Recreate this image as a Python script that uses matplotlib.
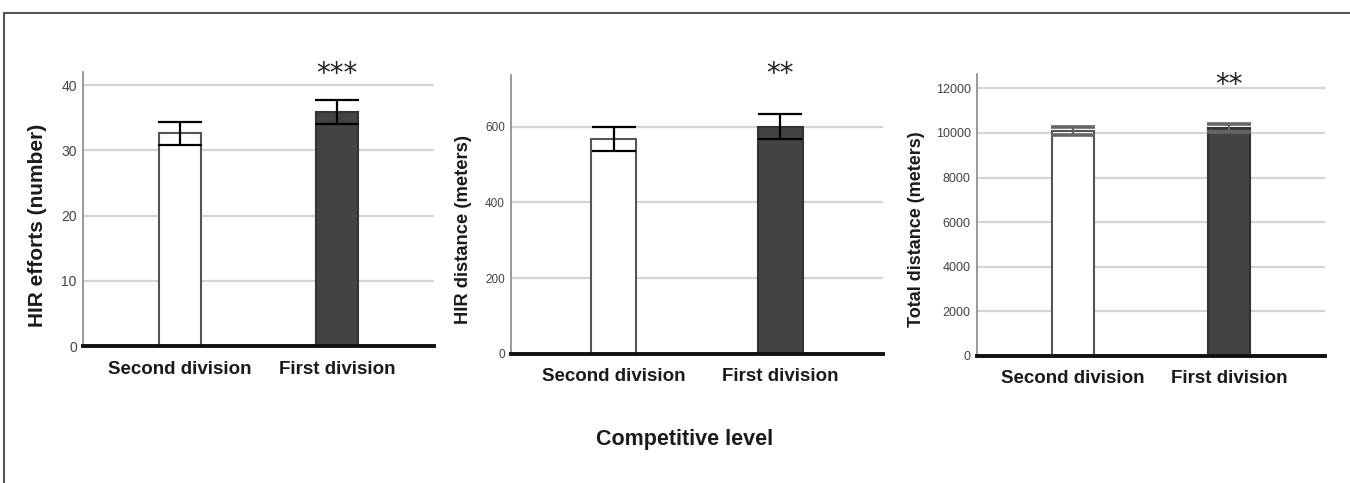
import matplotlib
matplotlib.use("Agg")
import matplotlib.pyplot as plt
from matplotlib.lines import Line2D

categories = ["Second division", "First division"]
hir_efforts = [32.6, 35.9]
hir_efforts_err = [1.75, 1.8]
hir_distance = [567, 600]
hir_distance_err = [31, 33]
total_distance = [10070, 10225]
total_distance_err = [180, 170]
ylabels = ["HIR efforts (number)", "HIR distance (meters)", "Total distance (meters)"]
yticks = [[0, 10, 20, 30, 40], [0, 200, 400, 600], [0, 2000, 4000, 6000, 8000, 10000, 12000]]
stars = ["***", "**", "**"]
xlabel = "Competitive level"

FONT = ["Liberation Sans", "DejaVu Sans"]

fig = plt.figure(figsize=(13.5, 4.83), dpi=100)

W, H = 1350, 483
def rect(x0, x1, ytop, ybot):
    return [x0 / W, 1 - ybot / H, (x1 - x0) / W, (ybot - ytop) / H]

panels = [
    dict(rect=rect(83, 434, 72, 346), vals=hir_efforts, err=hir_efforts_err, ylim=42,
         tick_fs=10, lab_fs=15, lab_x=-0.102, lab_y=0.44, star_y=40.4, errc="black",
         cap_lw=1.6, xpad=11),
    dict(rect=rect(511, 883, 75, 354), vals=hir_distance, err=hir_distance_err, ylim=736,
         tick_fs=8.5, lab_fs=13.2, lab_x=-0.105, lab_y=0.448, star_y=717, errc="black",
         cap_lw=1.6, xpad=10),
    dict(rect=rect(977, 1325, 74, 356), vals=total_distance, err=total_distance_err, ylim=12640,
         tick_fs=9, lab_fs=13, lab_x=-0.149, lab_y=0.45, star_y=11785, errc="#666666",
         cap_lw=2.6, xpad=10),
]

x = [0, 1]
for i, p in enumerate(panels):
    ax = fig.add_axes(p["rect"])
    ax.set_xlim(-0.616, 1.616)
    ax.set_ylim(0, p["ylim"])
    ax.set_yticks(yticks[i])
    for t in yticks[i][1:]:
        ax.axhline(t, color="#d4d4d4", lw=1.6, zorder=0)
    ax.bar(x, p["vals"], width=0.27, color=["white", "#434343"],
           edgecolor=["#555555", "#333333"], linewidth=1.5, zorder=2)
    ax.errorbar(x, p["vals"], yerr=p["err"], fmt="none", ecolor=p["errc"],
                elinewidth=1.6, capsize=15.5, capthick=p["cap_lw"], zorder=3)
    for s in ["top", "right"]:
        ax.spines[s].set_visible(False)
    ax.spines["left"].set_color("#888888")
    ax.spines["left"].set_linewidth(1.2)
    ax.spines["bottom"].set_color("#111111")
    ax.spines["bottom"].set_linewidth(2.8)
    ax.spines["bottom"].set_zorder(4)
    ax.tick_params(axis="y", length=0, pad=4.5, labelsize=p["tick_fs"], labelcolor="#444444")
    ax.tick_params(axis="x", length=0, pad=p["xpad"])
    ax.set_xticks(x)
    ax.set_xticklabels(categories, fontsize=13.5, fontweight="bold", family=FONT, color="#1a1a1a")
    for lbl in ax.get_yticklabels():
        lbl.set_family(FONT)
    ax.set_ylabel(ylabels[i], fontsize=p["lab_fs"], fontweight="bold", family=FONT, color="#1a1a1a")
    ax.yaxis.set_label_coords(p["lab_x"], p["lab_y"])
    ax.text(1, p["star_y"], stars[i], ha="center", va="baseline", fontsize=20,
            color="#222222", clip_on=False)

fig.text(685 / W, 1 - 440 / H, xlabel, ha="center", va="center", fontsize=15.5,
         fontweight="bold", family=FONT, color="#1a1a1a")

# outer frame (top and left edges)
ytop = 1 - 13 / H
xl = 4 / W
fig.add_artist(Line2D([xl, 1], [ytop, ytop], color="#555555", lw=1.5, transform=fig.transFigure))
fig.add_artist(Line2D([xl, xl], [0, ytop], color="#555555", lw=1.5, transform=fig.transFigure))

fig.savefig("out.png", dpi=100)
